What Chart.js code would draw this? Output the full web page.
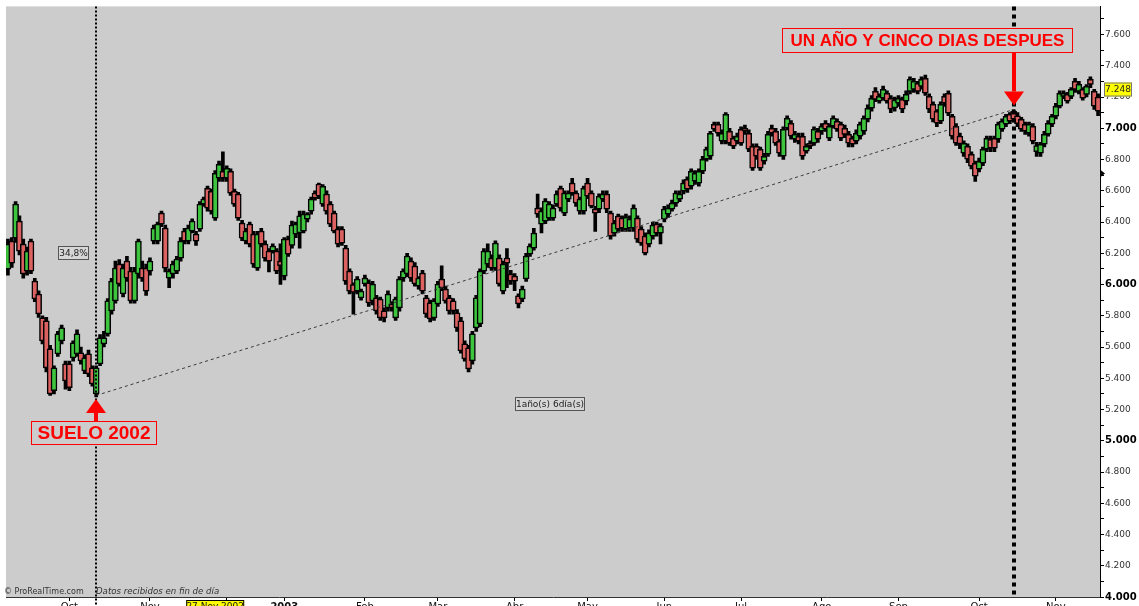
<!DOCTYPE html>
<html>
<head>
<meta charset="utf-8">
<script src="https://cdn.jsdelivr.net/npm/chart.js@4.4.0/dist/chart.umd.min.js"></script>
<style>
  html, body { margin: 0; padding: 0; background: #fff; overflow: hidden; }
  canvas { display: block; }
</style>
</head>
<body>
<canvas id="chart" width="1139" height="606"></canvas>
<script>
// IBEX 35 daily bars, [open, high, low, close]
const ohlc = [
  [6099,6290,6060,6259],[6278,6300,6110,6137],[6297,6530,6270,6514],[6406,6440,6190,6214],
  [6259,6290,6040,6067],[6086,6240,6060,6214],[6278,6290,6070,6086],[6022,6040,5890,5907],
  [5939,5960,5790,5812],[5786,5800,5620,5639],[5767,5790,5440,5466],[5588,5610,5290,5300],
  [5320,5480,5300,5466],[5556,5700,5540,5684],[5639,5740,5620,5722],[5492,5510,5330,5383],
  [5492,5510,5320,5339],[5530,5640,5510,5626],[5556,5710,5540,5684],[5562,5600,5490,5511],
  [5447,5550,5430,5530],[5556,5580,5410,5428],[5466,5480,5350,5364],[5300,5480,5280,5466],
  [5492,5680,5480,5658],[5620,5700,5600,5658],[5684,5910,5670,5895],[5831,6040,5810,6022],
  [5895,6150,5880,6105],[6131,6160,5990,6003],[5939,6130,5920,6105],[6150,6180,6020,6041],
  [6086,6110,5880,5895],[5895,6110,5880,6086],[6067,6290,6040,6278],[6105,6150,6020,6041],
  [6105,6130,5930,5958],[6086,6170,6060,6150],[6278,6380,6260,6361],[6278,6400,6260,6387],
  [6457,6470,6370,6387],[6361,6380,6080,6105],[6041,6100,5980,6086],[6067,6150,6040,6131],
  [6086,6180,6070,6163],[6169,6300,6150,6278],[6342,6360,6260,6278],[6278,6380,6260,6361],
  [6342,6420,6330,6406],[6323,6340,6250,6278],[6355,6530,6340,6514],[6514,6560,6500,6546],
  [6616,6630,6470,6489],[6597,6610,6450,6470],[6425,6730,6410,6712],[6680,6790,6660,6770],
  [6725,6850,6660,6680],[6680,6760,6660,6744],[6725,6740,6570,6585],[6597,6610,6500,6514],
  [6578,6590,6410,6425],[6393,6410,6280,6297],[6278,6360,6260,6342],[6387,6400,6240,6259],
  [6323,6340,6110,6131],[6105,6340,6090,6323],[6342,6360,6240,6259],[6259,6280,6150,6169],
  [6214,6230,6080,6150],[6214,6260,6200,6246],[6214,6230,6070,6086],
  [6150,6260,6000,6120],[6054,6300,6030,6291],[6291,6310,6180,6195],[6250,6406,6233,6380],
  [6323,6400,6300,6387],[6330,6470,6233,6440],[6342,6470,6330,6450],[6418,6460,6400,6450],
  [6470,6560,6450,6546],[6585,6600,6540,6553],[6642,6650,6550,6565],[6514,6640,6500,6629],
  [6578,6600,6450,6470],[6514,6530,6370,6387],[6457,6470,6330,6342],[6355,6370,6240,6259],
  [6355,6370,6250,6265],[6233,6250,6000,6022],[6086,6100,5940,5958],[6000,6010,5810,5950],
  [5958,6050,5940,6035],[5914,5970,5900,5958],[6003,6060,5990,6041],[6010,6030,5860,5882],
  [5895,6020,5870,6003],[5914,5930,5810,5831],[5907,5920,5770,5786],[5831,5850,5760,5786],
  [5850,5960,5830,5939],[5875,5890,5830,5850],[5786,5920,5770,5907],[5850,6050,5830,6035],
  [6041,6100,6020,6086],[6067,6200,6050,6182],[6150,6170,6020,6041],[6118,6140,5990,6003],
  [5990,6050,5970,6041],[6073,6090,5940,5958],[5914,5930,5790,5812],[5882,5900,5760,5780],
  [5786,5910,5770,5895],[5876,6020,5860,6003],[6035,6120,5960,5978],[5971,5990,5880,5895],
  [5914,5930,5810,5831],[5895,5910,5810,5831],[5818,5840,5700,5722],[5767,5790,5560,5575],
  [5620,5640,5510,5524],[5594,5610,5440,5460],[5511,5700,5490,5684],[5722,5930,5700,5914],
  [5748,6100,5730,6086],[6086,6230,6070,6214],[6131,6260,6110,6214],[6169,6190,6090,6105],
  [6105,6280,6090,6265],[6169,6190,5990,6003],[5958,6150,5940,6131],[6169,6230,5980,6137],
  [6067,6090,6000,6022],[6054,6070,5960,6022],[5927,5940,5850,5875],[5907,5990,5890,5971],
  [6035,6200,6020,6182],[6195,6260,6180,6246],[6233,6360,6220,6329],[6489,6578,6430,6450],
  [6387,6490,6330,6470],[6406,6550,6390,6534],[6425,6530,6410,6514],[6425,6510,6410,6489],
  [6514,6600,6500,6578],[6616,6630,6470,6489],
  [6457,6600,6440,6585],[6546,6600,6530,6585],[6649,6680,6570,6585],[6585,6600,6500,6521],
  [6470,6560,6450,6546],[6470,6630,6450,6616],[6649,6680,6550,6565],[6585,6600,6490,6502],
  [6482,6500,6340,6457],[6482,6580,6460,6565],[6546,6600,6530,6578],[6578,6600,6460,6482],
  [6457,6470,6290,6310],[6329,6410,6310,6393],[6438,6450,6340,6355],[6425,6440,6340,6361],
  [6355,6450,6340,6430],[6361,6440,6340,6419],[6361,6510,6340,6489],[6425,6440,6270,6291],
  [6355,6370,6250,6265],[6310,6330,6190,6201],[6259,6350,6240,6329],[6310,6400,6290,6380],
  [6387,6400,6310,6329],[6329,6390,6260,6374],[6418,6500,6400,6482],[6450,6510,6430,6489],
  [6482,6540,6470,6521],[6521,6600,6500,6585],[6546,6600,6530,6578],[6597,6670,6580,6649],
  [6674,6690,6590,6610],[6629,6740,6610,6725],[6661,6730,6640,6712],[6649,6740,6630,6725],
  [6725,6820,6710,6802],[6802,6880,6790,6866],[6821,6980,6800,6968],[7026,7040,6980,6994],
  [7026,7040,6950,6968],[6917,6990,6900,6968],[6917,7100,6900,7090],[6981,7000,6890,6904],
  [6936,6950,6870,6885],[6917,6970,6900,6949],[6994,7010,6890,6904],[7000,7020,6960,6981],
  [6968,6990,6850,6866],[6885,6900,6730,6744],[6885,6900,6800,6821],[6866,6880,6730,6744],
  [6789,6840,6770,6821],[6834,6980,6820,6962],[7000,7020,6950,6968],[6981,7000,6890,6904],
  [6917,6930,6820,6840],[6821,7010,6800,6994],[7000,7080,6990,7064],[7032,7050,6930,6949],
  [6930,6980,6910,6962],[6949,6970,6900,6917],[6949,6970,6800,6821],[6853,6900,6840,6885],
  [6904,6920,6870,6885],[6904,7010,6890,6994],[6981,7000,6910,6930],[6981,7030,6960,7013],
  [7032,7050,6980,6994],[6936,7030,6920,7013],[7013,7080,7000,7064],[7045,7060,6980,6994],
  [7026,7040,6920,6936],
  [7000,7020,6940,6960],[6962,6980,6880,6904],[6936,6950,6880,6898],[6917,6990,6900,6968],
  [6949,7040,6930,7026],[6981,7080,6960,7064],[7058,7150,7040,7128],[7128,7210,7110,7192],
  [7237,7260,7170,7185],[7173,7220,7160,7204],[7192,7270,7180,7249],[7224,7240,7160,7173],
  [7192,7210,7100,7122],[7130,7200,7110,7180],[7160,7210,7140,7192],[7185,7200,7100,7122],
  [7173,7240,7150,7217],[7236,7330,7220,7313],[7249,7320,7230,7300],[7288,7300,7220,7236],
  [7268,7330,7250,7313],[7320,7340,7210,7224],[7204,7220,7100,7122],[7153,7170,7040,7058],
  [7109,7120,7010,7032],[7045,7170,7030,7153],[7204,7220,7140,7160],[7224,7240,7080,7096],
  [7077,7090,6930,6949],[7013,7030,6890,6904],[6950,6970,6870,6900],[6840,6920,6820,6904],
  [6885,6900,6780,6802],[6834,6850,6740,6757],[6776,6790,6660,6693],[6738,6810,6720,6789],
  [6776,6880,6760,6866],[6866,6950,6850,6936],[6930,6950,6850,6872],[6936,6950,6850,6872],
  [6930,7040,6910,7026],[6994,7060,6980,7045],[7026,7090,7010,7077],[7090,7100,7030,7045],
  [7109,7120,7040,7058],[7080,7100,7010,7030],[7058,7070,6980,6994],[7026,7040,6960,6981],
  [6968,7040,6950,7026],[7013,7030,6900,6917],[6850,6910,6820,6890],[6840,6910,6820,6898],
  [6898,6980,6880,6962],[6962,7050,6950,7032],[7026,7090,7010,7077],[7077,7160,7060,7141],
  [7141,7240,7130,7224],[7204,7240,7190,7224],[7217,7230,7160,7173],[7204,7260,7190,7249],
  [7300,7320,7230,7249],[7236,7300,7220,7281],[7249,7260,7180,7192],[7217,7280,7200,7268],
  [7313,7330,7260,7281],[7236,7250,7120,7141],[7200,7220,7080,7110]
];

// month ticks (bar index of first session) and their labels
const monthStarts = [16, 37, 57, 72, 93, 112, 132, 151, 171, 191, 212, 232, 253, 273];
const monthNames = ['Oct', 'Nov', 'Dic', '2003', 'Feb', 'Mar', 'Abr', 'May', 'Jun', 'Jul', 'Ago', 'Sep', 'Oct', 'Nov'];

const yTicks = [4000, 4100, 4200, 4300, 4400, 4500, 4600, 4700, 4800, 4900, 5000, 5100, 5200, 5300,
  5400, 5500, 5600, 5700, 5800, 5900, 6000, 6100, 6200, 6300, 6400, 6500, 6600, 6700, 6800, 6900,
  7000, 7100, 7200, 7300, 7400, 7500, 7600, 7700];

// annotations
const sueloIdx = 23;         // 10 Oct 2002
const laterIdx = 262;        // one year and a few days later
const trendStart = [23, 5290];
const trendEnd = [262, 7120];
const lastPrice = 7248;
const markerPrice = 6710;
const cursorIdx = 54;        // 27 Nov 2002

const GREEN = '#3ec43e';
const RED = '#dc6262';
const fmt = v => (v / 1000).toFixed(3);

function labelBox(ctx, text, x, y, w, h, fill, stroke) {
    ctx.fillStyle = fill;
    ctx.fillRect(x, y, w, h);
    ctx.strokeStyle = stroke;
    ctx.lineWidth = 1;
    ctx.strokeRect(x + 0.5, y + 0.5, w - 1, h - 1);
    ctx.fillStyle = '#222';
    ctx.font = '9px "DejaVu Sans"';
    ctx.textAlign = 'center';
    ctx.textBaseline = 'middle';
    ctx.fillText(text, x + w / 2, y + h / 2 + 0.5);
}

function redBox(ctx, text, x, y, w, h, size) {
    ctx.fillStyle = '#cccccc';
    ctx.fillRect(x, y, w, h);
    ctx.strokeStyle = '#ff0000';
    ctx.lineWidth = 1;
    ctx.strokeRect(x + 0.5, y + 0.5, w - 1, h - 1);
    ctx.fillStyle = '#ff0000';
    ctx.font = 'bold ' + size + 'px "Liberation Sans", Arial';
    ctx.textAlign = 'center';
    ctx.textBaseline = 'middle';
    ctx.fillText(text, x + w / 2, y + h / 2 + 1);
}

function arrow(ctx, x, fromY, tipY) {
    const dir = tipY > fromY ? 1 : -1;
    const headBase = tipY - dir * 14;
    ctx.fillStyle = '#ff0000';
    ctx.fillRect(x - 2, Math.min(fromY, headBase), 4, Math.abs(headBase - fromY));
    ctx.beginPath();
    ctx.moveTo(x, tipY);
    ctx.lineTo(x - 10, headBase);
    ctx.lineTo(x + 10, headBase);
    ctx.closePath();
    ctx.fill();
}

const overlay = {
    id: 'overlay',
    beforeDraw(chart) {
        const { ctx, chartArea: a } = chart;
        ctx.save();
        ctx.fillStyle = '#cccccc';
        ctx.fillRect(a.left, a.top, a.right - a.left, a.bottom - a.top);
        ctx.restore();
    },
    afterDraw(chart) {
        const { ctx, chartArea: a, scales: { x, y } } = chart;
        ctx.save();

        // trend line between the two dates
        ctx.strokeStyle = '#3a3a3a';
        ctx.lineWidth = 1;
        ctx.setLineDash([3, 3]);
        ctx.beginPath();
        ctx.moveTo(x.getPixelForValue(trendStart[0]), y.getPixelForValue(trendStart[1]));
        ctx.lineTo(x.getPixelForValue(trendEnd[0]), y.getPixelForValue(trendEnd[1]));
        ctx.stroke();

        // vertical markers
        const xs = Math.round(x.getPixelForValue(sueloIdx));
        ctx.strokeStyle = '#000';
        ctx.lineWidth = 2;
        ctx.setLineDash([2, 2]);
        ctx.beginPath();
        ctx.moveTo(xs, a.top);
        ctx.lineTo(xs, chart.height);
        ctx.stroke();

        const xl = Math.round(x.getPixelForValue(laterIdx));
        ctx.lineWidth = 4;
        ctx.setLineDash([4, 4]);
        ctx.beginPath();
        ctx.moveTo(xl, a.top);
        ctx.lineTo(xl, a.bottom);
        ctx.stroke();
        ctx.setLineDash([]);

        // small measurement labels
        labelBox(ctx, '34,8%', 58, 246, 31, 14, '#d6d6d6', '#555');
        labelBox(ctx, '1año(s) 6día(s)', 515, 397, 70, 14, '#d6d6d6', '#555');

        // red call-outs
        const lowY = y.getPixelForValue(ohlc[sueloIdx][2]);
        arrow(ctx, xs, 421, lowY + 2);
        redBox(ctx, 'SUELO 2002', 31, 421, 126, 24, 19);

        arrow(ctx, xl, 52, y.getPixelForValue(trendEnd[1]) - 4);
        redBox(ctx, 'UN AÑO Y CINCO DIAS DESPUES', 782, 28, 291, 25, 17);

        // credits
        ctx.fillStyle = '#333';
        ctx.textAlign = 'left';
        ctx.textBaseline = 'middle';
        ctx.font = '8px "DejaVu Sans"';
        ctx.fillText('© ProRealTime.com', 4, 592);
        ctx.font = 'italic 8.6px "DejaVu Sans"';
        ctx.fillText('Datos recibidos en fin de día', 96, 592);

        // last price tag on the axis
        const yp = y.getPixelForValue(lastPrice);
        ctx.fillStyle = '#ffff00';
        ctx.fillRect(1104, yp - 7, 28, 14);
        ctx.strokeStyle = '#777';
        ctx.strokeRect(1104.5, yp - 6.5, 27, 13);
        ctx.fillStyle = '#222';
        ctx.font = '9px "DejaVu Sans"';
        ctx.textAlign = 'center';
        ctx.fillText(fmt(lastPrice), 1118, yp + 0.5);

        // marker on the axis
        const ym = y.getPixelForValue(markerPrice);
        ctx.fillStyle = '#000';
        ctx.beginPath();
        ctx.moveTo(a.right, ym - 4);
        ctx.lineTo(a.right + 5, ym);
        ctx.lineTo(a.right, ym + 4);
        ctx.closePath();
        ctx.fill();

        // cursor date tag
        const xc = x.getPixelForValue(cursorIdx);
        ctx.fillStyle = '#ffff00';
        ctx.fillRect(xc - 29, 600, 58, 14);
        ctx.strokeStyle = '#000';
        ctx.strokeRect(xc - 28.5, 600.5, 57, 13);
        ctx.fillStyle = '#111';
        ctx.textBaseline = 'top';
        ctx.fillText('27 Nov 2002', xc, 602);

        ctx.restore();
    }
};

new Chart(document.getElementById('chart'), {
    type: 'bar',
    data: {
        labels: ohlc.map((_, i) => i),
        datasets: [
            {
                // high-low wicks
                data: ohlc.map(d => [d[2], d[1]]),
                backgroundColor: '#000',
                barThickness: 3,
                grouped: false,
                order: 2
            },
            {
                // open-close bodies
                data: ohlc.map(d => [Math.min(d[0], d[3]), Math.max(d[0], d[3])]),
                backgroundColor: ohlc.map(d => d[3] >= d[0] ? GREEN : RED),
                borderColor: '#000',
                borderWidth: 1.5,
                borderSkipped: false,
                barThickness: 6,
                grouped: false,
                order: 1
            }
        ]
    },
    options: {
        responsive: false,
        animation: false,
        devicePixelRatio: 1,
        layout: { padding: { left: 6, top: 5, right: 0, bottom: 0 } },
        plugins: {
            legend: { display: false },
            tooltip: { enabled: false }
        },
        scales: {
            x: {
                type: 'category',
                offset: true,
                grid: { drawOnChartArea: false, offset: false, tickLength: 4, color: '#000' },
                border: { color: '#333' },
                ticks: {
                    autoSkip: false,
                    maxRotation: 0,
                    padding: 0,
                    color: '#111',
                    font: ctx => ({
                        family: '"DejaVu Sans"',
                        size: 10,
                        weight: ctx.tick && ctx.tick.value === 72 ? 'bold' : 'normal'
                    }),
                    callback: v => monthNames[monthStarts.indexOf(v)]
                },
                afterBuildTicks: s => { s.ticks = monthStarts.map(v => ({ value: v })); },
                afterFit: s => { s.height = 9; }
            },
            y: {
                position: 'right',
                min: 4000,
                max: 7780,
                grid: { drawOnChartArea: false, tickLength: 4, color: '#000' },
                border: { color: '#000' },
                ticks: {
                    padding: 1,
                    color: ctx => ctx.tick && ctx.tick.value % 1000 === 0 ? '#000' : '#333',
                    font: ctx => ({
                        family: '"DejaVu Sans"',
                        size: ctx.tick && ctx.tick.value % 1000 === 0 ? 10 : 9,
                        weight: ctx.tick && ctx.tick.value % 1000 === 0 ? 'bold' : 'normal'
                    }),
                    callback: v => v % 200 === 0 ? fmt(v) : ''
                },
                afterBuildTicks: s => { s.ticks = yTicks.map(v => ({ value: v })); },
                afterFit: s => { s.width = 39; }
            }
        }
    },
    plugins: [overlay]
});
</script>
</body>
</html>
